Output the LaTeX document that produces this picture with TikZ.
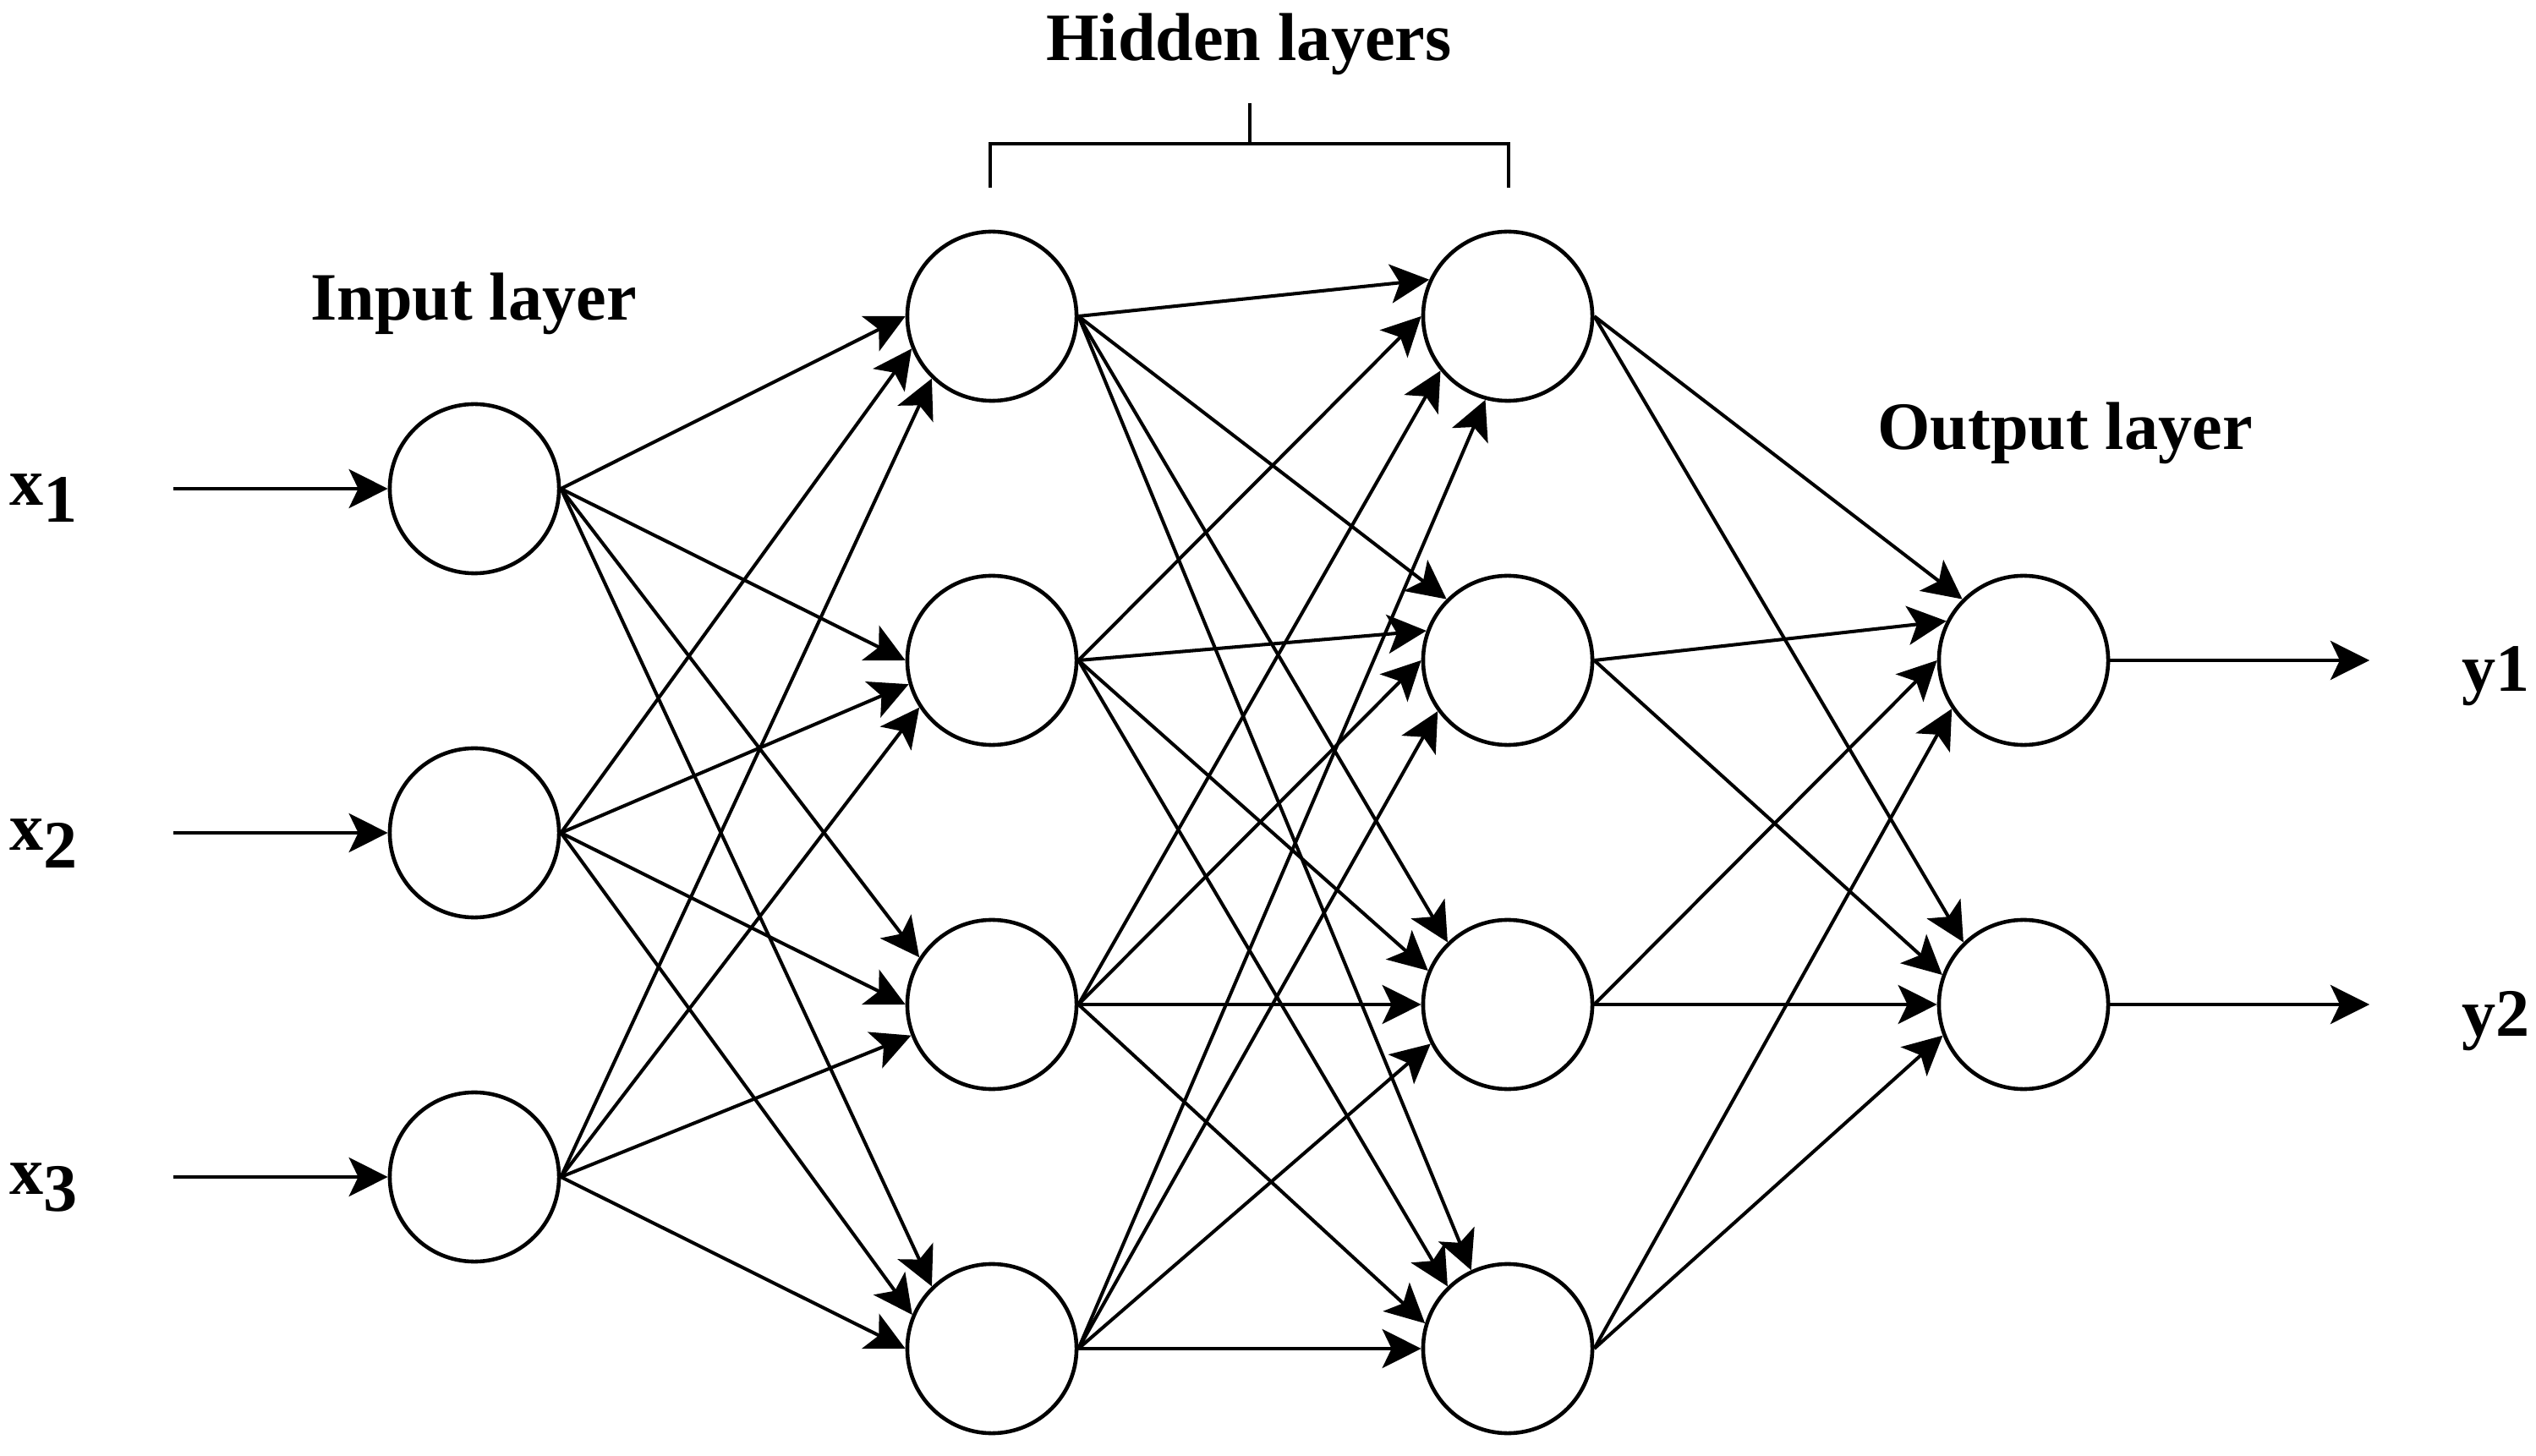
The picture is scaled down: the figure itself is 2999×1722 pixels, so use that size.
\documentclass[tikz,border=0pt]{standalone}
\usepackage{fontspec}
\setmainfont{Liberation Serif}
\usetikzlibrary{arrows.meta}
\begin{document}
\begin{tikzpicture}[x=0.01cm, y=-0.01cm,
  neuron/.style={circle, draw, line width=1.3pt, minimum size=2cm, inner sep=0pt},
  conn/.style={line width=1.15pt, -{Stealth[length=0.46cm, width=0.46cm, inset=0.11cm]}},
  bracketline/.style={line width=1.15pt},
  lbl/.style={font=\fontsize{22.8}{27}\selectfont\bfseries, inner sep=0pt},
]
\useasboundingbox (0,0) rectangle (2999,1722);

% input layer
\node[neuron] (i1) at (561,578) {};
\node[neuron] (i2) at (561,985) {};
\node[neuron] (i3) at (561,1392) {};
% hidden layer 1
\node[neuron] (h1) at (1173,374) {};
\node[neuron] (h2) at (1173,781) {};
\node[neuron] (h3) at (1173,1188) {};
\node[neuron] (h4) at (1173,1595) {};
% hidden layer 2
\node[neuron] (g1) at (1783,374) {};
\node[neuron] (g2) at (1783,781) {};
\node[neuron] (g3) at (1783,1188) {};
\node[neuron] (g4) at (1783,1595) {};
% output layer
\node[neuron] (o1) at (2393,781) {};
\node[neuron] (o2) at (2393,1188) {};

% labels
\node[lbl, anchor=base] (tin) at (560,379) {Input layer};
\node[lbl, anchor=base] (thid) at (1477,72) {Hidden layers};
\node[lbl, anchor=base] (tout) at (2442,532) {Output layer};
\node[lbl, anchor=base west] (x1) at (11,598) {x\raisebox{-0.19cm}{1}};
\node[lbl, anchor=base west] (x2) at (11,1005) {x\raisebox{-0.21cm}{2}};
\node[lbl, anchor=base west] (x3) at (11,1412) {x\raisebox{-0.2cm}{3}};
\node[lbl, anchor=base west] (y1) at (2911,818) {y1};
\node[lbl, anchor=base west] (y2) at (2911,1225) {y2};

% free ends of input / output arrows
\coordinate (in1) at (205,578);
\coordinate (in2) at (205,985);
\coordinate (in3) at (205,1392);
\coordinate (out1) at (2802,781);
\coordinate (out2) at (2802,1188);

\draw[conn] (in1) -- (i1);
\draw[conn] (in2) -- (i2);
\draw[conn] (in3) -- (i3);
\draw[conn] (o1) -- (out1);
\draw[conn] (o2) -- (out2);

% input -> hidden 1
\foreach \s/\t/\a in {i1/h1/180, i2/h1/202, i3/h1/226,
                      i1/h2/180, i2/h2/196, i3/h2/213,
                      i1/h3/147, i2/h3/180, i3/h3/201,
                      i1/h4/134, i2/h4/157, i3/h4/180}
  \draw[conn] (\s.east) -- (\t.\a);

% hidden 1 -> hidden 2
\foreach \s/\t/\a in {h1/g1/155, h2/g1/180, h3/g1/219, h4/g1/255,
                      h1/g2/135, h2/g2/160, h3/g2/180, h4/g2/216,
                      h1/g3/134, h2/g3/157, h3/g3/180, h4/g3/207,
                      h1/g4/115, h2/g4/134, h3/g4/163, h4/g4/180}
  \draw[conn] (\s.east) -- (\t.\a);

% hidden 2 -> output
\foreach \s/\t/\a in {g1/o1/135, g2/o1/153, g3/o1/180, g4/o1/214,
                      g1/o2/134, g2/o2/160, g3/o2/180, g4/o2/201}
  \draw[conn] (\s.east) -- (\t.\a);

% bracket over hidden layers
\coordinate (bl) at (1171,222);
\coordinate (blt) at (1171,170);
\coordinate (br) at (1784,222);
\coordinate (brt) at (1784,170);
\coordinate (bm) at (1478,170);
\coordinate (bmt) at (1478,122);
\draw[bracketline] (bl) -- (blt) -- (brt) -- (br);
\draw[bracketline] (bm) -- (bmt);
\end{tikzpicture}
\end{document}
